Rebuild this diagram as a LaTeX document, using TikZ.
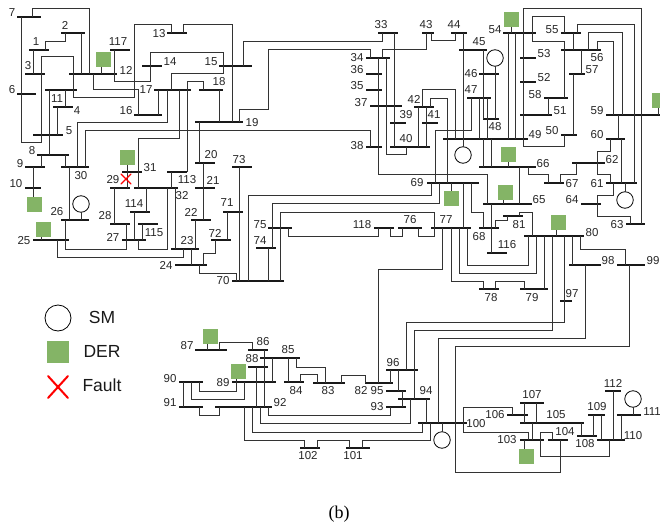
\documentclass[tikz,border=0pt]{standalone}
\usepackage{fontspec}
\setmainfont{Liberation Sans}
\newfontfamily\capfont{Liberation Serif}
\definecolor{dergreen}{HTML}{84B466}
\tikzset{
  busbar/.style={fill=black!90,inner sep=0pt,outer sep=0pt,minimum height=1.15pt},
  buslabel/.style={inner sep=0pt,font=\fontsize{11.5}{11.5}\selectfont,text=black!85},
  wire/.style={draw=black!80,line width=1pt},
  derbox/.style={fill=dergreen,inner sep=0pt,outer sep=0pt,minimum size=15pt},
  smcirc/.style={circle,draw=black,fill=white,line width=0.8pt,inner sep=0pt,outer sep=0pt,minimum size=16.5pt},
  legendlabel/.style={inner sep=0pt,font=\fontsize{17.5}{18}\selectfont,text=black!90},
  faultmark/.style={draw=red,line cap=round}
}
\newcommand{\busbar}[6]{%
  \pgfmathsetmacro\buswd{#3-#2}\pgfmathsetmacro\busmid{(#2+#3)/2}%
  \node[busbar,minimum width=\buswd pt] (b#1) at (\busmid,#4) {};
  \node[buslabel] (l#1) at (#5,#6) {#1};}
\newcommand{\wireV}[3]{\draw[wire] (#1,0|-b#2) -- (#1,0|-b#3);}
\newcommand{\wireC}[5]{\draw[wire] (#1,0|-b#2) #3 (#4,0|-b#5);}
\begin{document}
\begin{tikzpicture}[x=1pt,y=-1pt]
\useasboundingbox (0,0) rectangle (660,529);
\clip (0,0) rectangle (660,529);
\busbar{1}{29}{49}{50}{36}{42}
\busbar{2}{61}{85}{33}{65}{25}
\busbar{3}{25}{45}{74}{28}{66}
\busbar{4}{53}{73}{107}{77}{111}
\busbar{5}{33}{63}{135}{69}{131}
\busbar{6}{17}{36}{94}{12}{90}
\busbar{7}{17}{41}{17}{12}{13}
\busbar{8}{37}{69}{155}{32}{151}
\busbar{9}{25}{45}{167}{20}{164}
\busbar{10}{25}{41}{188}{16}{184}
\busbar{11}{45}{77}{90}{57}{99}
\busbar{12}{69}{117}{74}{126}{70}
\busbar{13}{167}{187}{33}{159}{34}
\busbar{14}{142}{162}{66}{170}{62}
\busbar{15}{219}{252}{66}{211}{62}
\busbar{16}{134}{162}{115}{126}{111}
\busbar{17}{154}{191}{90}{146}{90}
\busbar{18}{199}{223}{90}{219}{82}
\busbar{19}{195}{243}{122}{252}{123}
\busbar{20}{195}{215}{163}{211}{155}
\busbar{21}{195}{215}{188}{213}{180}
\busbar{22}{191}{211}{220}{191}{212}
\busbar{23}{171}{199}{249}{187}{241}
\busbar{24}{175}{207}{265}{166}{265}
\busbar{25}{33}{69}{240}{24}{241}
\busbar{26}{61}{89}{220}{57}{212}
\busbar{27}{122}{146}{240}{113}{237}
\busbar{28}{110}{130}{224}{105}{216}
\busbar{29}{110}{130}{188}{113}{180}
\busbar{30}{61}{89}{167}{81}{176}
\busbar{31}{122}{142}{172}{150}{168}
\busbar{32}{134}{178}{188}{182}{196}
\busbar{33}{378}{398}{33}{381}{25}
\busbar{34}{366}{390}{58}{357}{58}
\busbar{35}{366}{382}{90}{357}{86}
\busbar{36}{366}{382}{74}{357}{70}
\busbar{37}{370}{402}{106}{361}{103}
\busbar{38}{366}{382}{147}{357}{146}
\busbar{39}{390}{406}{123}{406}{115}
\busbar{40}{390}{430}{147}{406}{139}
\busbar{41}{422}{438}{123}{434}{115}
\busbar{42}{414}{434}{107}{414}{99}
\busbar{43}{422}{434}{33}{426}{25}
\busbar{44}{451}{467}{33}{454}{25}
\busbar{45}{459}{487}{50}{479}{42}
\busbar{46}{479}{499}{74}{471}{74}
\busbar{47}{467}{491}{98}{471}{90}
\busbar{48}{483}{499}{119}{495}{127}
\busbar{49}{443}{528}{139}{535}{135}
\busbar{50}{561}{577}{135}{552}{131}
\busbar{51}{520}{552}{115}{560}{111}
\busbar{52}{520}{536}{82}{544}{78}
\busbar{53}{520}{536}{58}{544}{54}
\busbar{54}{503}{536}{33}{495}{30}
\busbar{55}{561}{581}{33}{552}{30}
\busbar{56}{561}{601}{50}{597}{58}
\busbar{57}{569}{585}{74}{592}{70}
\busbar{58}{544}{568}{98}{535}{95}
\busbar{59}{606}{660}{115}{597}{111}
\busbar{60}{606}{625}{139}{597}{135}
\busbar{61}{606}{637}{183}{597}{184}
\busbar{62}{572}{605}{163}{612}{160}
\busbar{63}{626}{645}{224}{617}{225}
\busbar{64}{581}{601}{204}{572}{200}
\busbar{65}{483}{532}{204}{539}{200}
\busbar{66}{479}{536}{167}{543}{164}
\busbar{67}{544}{564}{183}{572}{184}
\busbar{68}{479}{499}{228}{479}{237}
\busbar{69}{427}{479}{183}{417}{183}
\busbar{70}{232}{284}{281}{223}{281}
\busbar{71}{223}{243}{212}{227}{203}
\busbar{72}{211}{231}{240}{215}{233}
\busbar{73}{232}{252}{167}{239}{160}
\busbar{74}{256}{276}{248}{260}{241}
\busbar{75}{268}{292}{228}{260}{225}
\busbar{76}{398}{422}{228}{410}{220}
\busbar{77}{431}{471}{228}{446}{220}
\busbar{78}{479}{499}{289}{491}{298}
\busbar{79}{520}{548}{289}{532}{298}
\busbar{80}{524}{584}{236}{592}{233}
\busbar{81}{503}{523}{216}{519}{225}
\busbar{82}{365}{393}{383}{361}{391}
\busbar{83}{313}{345}{383}{328}{391}
\busbar{84}{284}{304}{382}{296}{391}
\busbar{85}{260}{300}{358}{288}{350}
\busbar{86}{248}{268}{350}{263}{342}
\busbar{87}{195}{227}{350}{187}{346}
\busbar{88}{248}{268}{367}{252}{359}
\busbar{89}{232}{276}{382}{223}{383}
\busbar{90}{179}{203}{382}{170}{379}
\busbar{91}{179}{203}{407}{170}{403}
\busbar{92}{215}{272}{407}{280}{403}
\busbar{93}{386}{406}{407}{377}{407}
\busbar{94}{398}{430}{399}{426}{391}
\busbar{95}{386}{406}{391}{377}{391}
\busbar{96}{386}{418}{370}{393}{363}
\busbar{97}{560}{572}{301}{572}{294}
\busbar{98}{569}{601}{265}{608}{261}
\busbar{99}{617}{645}{265}{653}{261}
\busbar{100}{418}{467}{423}{476}{424}
\busbar{101}{346}{370}{448}{353}{456}
\busbar{102}{300}{320}{448}{308}{456}
\busbar{103}{520}{544}{440}{507}{440}
\busbar{104}{548}{568}{440}{565}{432}
\busbar{105}{520}{584}{423}{556}{415}
\busbar{106}{507}{528}{415}{495}{415}
\busbar{107}{520}{544}{403}{532}{395}
\busbar{108}{577}{597}{436}{585}{444}
\busbar{109}{588}{605}{415}{597}{407}
\busbar{110}{597}{625}{440}{633}{436}
\busbar{111}{617}{641}{415}{652}{412}
\busbar{112}{605}{621}{391}{613}{383}
\busbar{113}{167}{187}{172}{187}{180}
\busbar{114}{130}{150}{212}{134}{204}
\busbar{115}{138}{158}{224}{154}{233}
\busbar{116}{487}{507}{253}{507}{245}
\busbar{117}{110}{130}{50}{118}{42}
\busbar{118}{374}{394}{228}{362}{225}
% DER units
\node[derbox] (d10) at (34.5,204.5) {};
\node[derbox] (d25) at (43.5,229.5) {};
\node[derbox] (d12) at (103.5,59.5) {};
\node[derbox] (d31) at (127.5,157.5) {};
\node[derbox] (d54) at (511.5,19.5) {};
\node[derbox] (d59) at (659.5,101) {};
\node[derbox] (d66) at (508.5,154.5) {};
\node[derbox] (d65) at (505.5,192.5) {};
\node[derbox] (d69) at (451.5,198.5) {};
\node[derbox] (d80) at (558.5,222.5) {};
\node[derbox] (d87) at (210.5,336.5) {};
\node[derbox] (d89) at (238.5,371) {};
\node[derbox] (d103) at (526.5,456.5) {};
% synchronous machines
\node[smcirc] (s26) at (81,204) {};
\node[smcirc] (s45) at (495,58) {};
\node[smcirc] (s49) at (463,155) {};
\node[smcirc] (s61) at (625,200) {};
\node[smcirc] (s100) at (442,440) {};
\node[smcirc] (s111) at (633,399) {};
% connectors: machines and DER
\draw[wire] (81,0|-b26) -- (s26.south);
\draw[wire] (495,0|-b48) -- (s45.south);
\draw[wire] (463,0|-b49) -- (s49.north);
\draw[wire] (625,0|-b61) -- (s61.north);
\draw[wire] (442,0|-b100) -- (s100.north);
\draw[wire] (633,0|-b111) -- (s111.south);
\draw[wire] (33,0|-b10) -- (33,0|-d10.north);
\draw[wire] (41,0|-b25) -- (41,0|-d25.south);
\draw[wire] (101,0|-b12) -- (101,0|-d12.south);
\draw[wire] (127,0|-b29) -- (127,0|-d31.south);
\draw[wire] (511,0|-b54) -- (511,0|-d54.south);
\draw[wire] (658,0|-b59) -- (658,0|-d59.south);
\draw[wire] (508,0|-b66) -- (508,0|-d66.south);
\draw[wire] (503,0|-b65) -- (503,0|-d65.south);
\draw[wire] (451,0|-b69) -- (451,0|-d69.north);
\draw[wire] (556,0|-b80) -- (556,0|-d80.south);
\draw[wire] (207,0|-b87) -- (207,0|-d87.south);
\draw[wire] (524,0|-b103) -- (524,0|-d103.north);
\draw[wire] (236,0|-d89.south) |- (199,391) -- (199,0|-b90);
% connectors: lines
\wireC{32}{7}{|- (89,9) --}{89}{12}
\wireC{21}{7}{|- (41,143) |- (73,57) |- (134,98) |- (171,25) --}{171}{13}
\wireV{81}{2}{12}
\wireC{65}{2}{|- (45,42) --}{45}{1}
\wireV{33}{1}{3}
\wireC{93}{12}{|- (138,90) --}{138}{16}
\wireV{158}{16}{17}
\wireC{114}{117}{|- (150,82) |- (223,53) --}{223}{15}
\wireC{223}{15}{|- (171,74) --}{171}{17}
\wireC{243}{15}{|- (382,42) --}{382}{33}
\wireC{183}{13}{|- (232,25) --}{232}{19}
\wireV{65}{11}{4}
\wireV{57}{4}{5}
\wireV{49}{11}{8}
\wireV{41}{8}{9}
\wireV{33}{9}{10}
\wireV{65}{8}{30}
\wireV{69}{30}{26}
\wireC{77}{30}{|- (167,123) --}{167}{17}
\wireC{85}{30}{|- (370,131) --}{370}{38}
\wireC{65}{26}{|- (126,249) --}{126}{28}
\wireC{57}{25}{|- (183,257) --}{183}{23}
\wireC{179}{17}{|- (138,139) --}{138}{32}
\wireC{138}{27}{|- (167,249) --}{167}{32}
\wireV{146}{32}{114}
\wireV{134}{114}{27}
\wireV{142}{115}{27}
\wireV{114}{29}{28}
\wireV{171}{113}{32}
\wireV{175}{32}{23}
\wireC{187}{113}{|- (203,82) --}{203}{18}
\wireV{191}{23}{24}
\wireV{195}{23}{22}
\wireV{203}{20}{22}
\wireV{199}{19}{20}
\wireV{219}{18}{19}
\wireC{239}{19}{|- (268,110) |- (370,50) --}{370}{34}
\wireC{382}{34}{|- (426,50) --}{426}{43}
\wireC{431}{43}{|- (455,41) --}{455}{44}
\wireC{378}{34}{|- (487,175) --}{487}{65}
\wireC{386}{34}{|- (406,155) --}{406}{40}
\wireV{394}{33}{40}
\wireV{418}{42}{40}
\wireV{426}{42}{40}
\wireC{422}{42}{|- (455,90) --}{455}{49}
\wireC{430}{42}{|- (447,99) --}{447}{69}
\wireC{435}{69}{|- (471,131) --}{471}{47}
\wireV{463}{44}{49}
\wireV{483}{45}{48}
\wireV{479}{47}{49}
\wireV{487}{47}{49}
\wireV{508}{54}{49}
\wireV{515}{54}{49}
\wireC{532}{54}{|- (564,17) --}{564}{55}
\wireC{532}{54}{|- (564,42) --}{564}{58}
\wireC{641}{63}{|- (523,9) |- (564,147) --}{564}{50}
\wireV{548}{58}{51}
\wireV{573}{55}{56}
\wireV{581}{56}{57}
\wireV{573}{57}{50}
\wireC{577}{55}{|- (634,25) --}{634}{61}
\wireC{588}{56}{|- (622,33) --}{622}{59}
\wireC{597}{56}{|- (613,42) --}{613}{59}
\wireV{618}{59}{60}
\wireV{621}{60}{61}
\wireC{610}{60}{|- (597,152) |- (610,175) --}{610}{61}
\wireC{613}{61}{|- (597,196) --}{597}{64}
\wireC{597}{64}{|- (630,216) --}{630}{63}
\wireV{483}{49}{66}
\wireV{491}{49}{66}
\wireC{528}{66}{|- (548,175) --}{548}{67}
\wireC{560}{67}{|- (576,175) --}{576}{62}
\wireV{519}{66}{65}
\wireV{491}{65}{116}
\wireC{471}{69}{|- (483,212) --}{483}{68}
\wireV{463}{69}{77}
\wireC{431}{69}{|- (248,196) --}{248}{70}
\wireC{439}{69}{|- (272,204) --}{272}{74}
\wireV{268}{74}{70}
\wireC{280}{70}{|- (434,212) |- (418,236) --}{418}{76}
\wireC{288}{75}{|- (378,236) --}{378}{118}
\wireC{390}{118}{|- (402,236) --}{402}{76}
\wireC{442}{77}{|- (378,269) --}{378}{82}
\wireC{451}{77}{|- (483,281) --}{483}{78}
\wireC{459}{77}{|- (536,273) --}{536}{80}
\wireC{467}{77}{|- (528,265) --}{528}{80}
\wireC{495}{68}{|- (507,220) --}{507}{81}
\wireC{519}{81}{|- (532,212) --}{532}{80}
\wireC{495}{78}{|- (524,281) --}{524}{79}
\wireV{544}{80}{79}
\wireC{552}{80}{|- (414,330) --}{414}{94}
\wireC{564}{80}{|- (406,322) --}{406}{96}
\wireV{572}{80}{98}
\wireC{580}{80}{|- (625,249) --}{625}{99}
\wireC{585}{98}{|- (438,338) --}{438}{100}
\wireC{629}{99}{|- (455,346) |- (560,472) --}{560}{104}
\wireV{239}{73}{70}
\wireV{227}{71}{72}
\wireC{215}{72}{|- (203,253) --}{203}{24}
\wireC{199}{24}{|- (236,273) --}{236}{70}
\wireV{390}{96}{82}
\wireV{398}{96}{95}
\wireV{402}{95}{93}
\wireC{390}{93}{|- (268,415) --}{268}{92}
\wireC{410}{94}{|- (260,423) --}{260}{92}
\wireV{426}{94}{100}
\wireC{422}{100}{|- (252,432) --}{252}{92}
\wireC{430}{100}{|- (362,440) --}{362}{101}
\wireC{349}{101}{|- (317,440) --}{317}{102}
\wireC{304}{102}{|- (244,440) --}{244}{92}
\wireC{341}{83}{|- (365,375) --}{365}{82}
\wireC{325}{83}{|- (296,367) --}{296}{85}
\wireC{317}{83}{|- (300,374) --}{300}{84}
\wireV{288}{85}{84}
\wireV{272}{85}{89}
\wireV{264}{86}{92}
\wireV{256}{88}{92}
\wireC{219}{87}{|- (252,342) --}{252}{86}
\wireC{191}{90}{|- (244,399) --}{244}{89}
\wireV{183}{90}{91}
\wireC{199}{91}{|- (219,415) --}{219}{92}
\wireC{512}{106}{|- (463,407) |- (528,432) --}{528}{103}
\wireV{524}{107}{105}
\wireV{536}{107}{105}
\wireV{532}{105}{103}
\wireC{540}{103}{|- (552,432) --}{552}{104}
\wireC{540}{103}{|- (609,456) --}{609}{110}
\wireV{581}{105}{108}
\wireV{593}{108}{109}
\wireV{601}{109}{110}
\wireV{613}{112}{110}
\wireV{621}{111}{110}
% fault at bus 29
\draw[faultmark,line width=1.3pt] (121,174) -- (131,184) (131,174) -- (121,184);
% legend
\node[circle,draw=black,fill=white,line width=0.8pt,inner sep=0pt,minimum size=26pt] (legsm) at (58,318) {};
\node[legendlabel] (legsmt) at (102,317) {SM};
\node[fill=dergreen,inner sep=0pt,minimum size=22pt] (legder) at (58,352) {};
\node[legendlabel] (legdert) at (102,351) {DER};
\draw[faultmark,line width=2pt] (48,376) -- (68,398) (68,376) -- (48,398);
\node[legendlabel] (legfault) at (102,385) {Fault};
\node[inner sep=0pt,font=\capfont\fontsize{18}{18}\selectfont] (cap) at (339,514) {(b)};
\end{tikzpicture}
\end{document}
